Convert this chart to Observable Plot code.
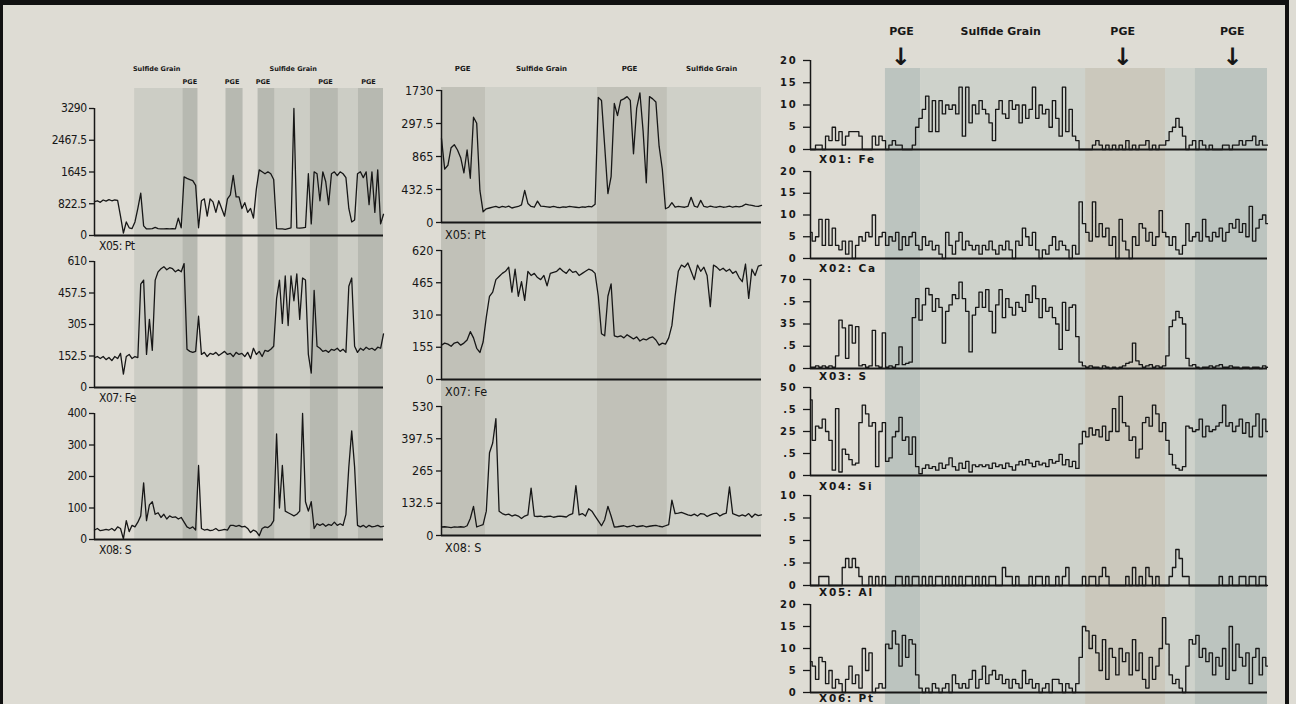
<!DOCTYPE html>
<html><head><meta charset="utf-8">
<script src="https://cdn.jsdelivr.net/npm/d3@7"></script>
<script src="https://cdn.jsdelivr.net/npm/@observablehq/plot@0.6"></script>
<style>
html,body{margin:0;padding:0;}
body{width:1296px;height:704px;overflow:hidden;background:#dedcd4;}
#page{position:relative;width:1296px;height:704px;overflow:hidden;}
#frame{position:absolute;left:0;top:0;width:1289px;height:704px;border-top:5px solid #111;border-left:3px solid #111;border-right:4px solid #111;box-sizing:border-box;}
</style></head><body>
<div id="page"><div id="frame"></div></div>
<script>
// ---------------- DATA ----------------
// Left panel (scan position 0-100)
const leftPt = [880,900,860,920,890,930,900,920,910,500, 60,350,200,180,350,700,1100,250,170,170,
  180,210,180,170,170,175,170,180,170,450, 200,1520,1480,1450,1420,1300,200,900,950,500,
  950,870,600,900,700,500,950,1050,1560,1000, 1000,700,850,600,700,450,1200,1700,1650,1600,
  1650,1600,1450,180,170,170,160,180,200,3290, 200,190,200,210,1600,300,1650,1600,900,1650,
  1400,800,1600,1650,1550,1650,1600,1500,700,350, 400,1600,1650,1500,1650,800,1650,600,1700,300, 550];
const leftFe = [145,150,140,150,135,145,130,150,140,165, 65,150,160,140,150,145,500,520,160,330,
  180,520,560,575,585,570,580,575,560,570, 560,600,185,175,170,175,345,160,170,150,
  165,160,170,155,165,175,160,165,150,170, 160,165,150,170,140,190,160,175,150,180,
  175,185,200,430,520,310,540,300,540,420, 550,330,530,520,160,70,470,200,190,175,
  180,170,185,180,190,175,185,170,490,530, 200,170,190,180,195,185,190,180,195,190, 260];
const leftS = [30,35,28,30,32,30,35,28,40,35, 2,60,25,45,40,55,75,180,60,110,
  120,80,85,70,80,65,75,70,72,65, 70,55,40,35,40,30,235,35,30,32,
  28,30,35,28,30,32,30,45,45,42, 45,40,42,35,22,30,25,12,35,40,
  38,45,60,335,100,235,90,85,80,75, 80,90,400,120,90,120,35,50,45,50,
  42,48,45,55,45,50,45,80,230,345, 230,45,40,45,38,45,40,42,45,40, 42];
const leftPtTicks = [0, 822.5, 1645, 2467.5, 3290];
const leftPtLabels = ["0", "822.5", "1645", "2467.5", "3290"];
const leftFeTicks = [0, 152.5, 305, 457.5, 610];
const leftFeLabels = ["0", "152.5", "305", "457.5", "610"];
const leftSTicks = [0, 100, 200, 300, 400];
const leftSLabels = ["0", "100", "200", "300", "400"];
const leftBands = [
  {x1: 13.9, x2: 30.6, kind: "Sulfide Grain"}, {x1: 30.6, x2: 35.8, kind: "PGE"},
  {x1: 45.5, x2: 51.4, kind: "PGE"}, {x1: 56.6, x2: 62.5, kind: "PGE"},
  {x1: 62.5, x2: 74.7, kind: "Sulfide Grain"}, {x1: 74.7, x2: 84.4, kind: "PGE"},
  {x1: 84.4, x2: 91.3, kind: "Sulfide Grain"}, {x1: 91.3, x2: 100, kind: "PGE"}];
const leftGrainLabels = [{x: 21.5, text: "Sulfide Grain"}, {x: 68.75, text: "Sulfide Grain"}];
const leftPgeLabels = [{x: 33, text: "PGE"}, {x: 47.6, text: "PGE"}, {x: 58.3, text: "PGE"}, {x: 79.9, text: "PGE"}, {x: 94.8, text: "PGE"}];

// Middle panel
const midPt = [1100,700,750,980,1020,950,850,650,950,580, 1380,1300,420,140,180,190,200,210,195,210,
  200,215,190,200,210,230,420,250,210,200, 280,215,210,205,200,210,200,195,205,200,
  210,205,200,195,205,200,210,205,240,1640, 1600,1000,380,600,1560,1400,1600,1620,1650,1600,
  900,1500,1700,1200,520,1650,1620,1580,1000,700, 180,200,260,200,210,205,200,210,330,215,
  200,290,210,200,215,205,200,210,200,205, 215,200,210,205,215,240,230,225,215,210, 225];
const midFe = [165,175,170,160,175,180,165,175,190,230, 200,150,130,180,300,400,420,480,495,510,
  520,540,420,530,400,470,380,520,500,510, 490,480,500,450,510,515,520,535,520,510,
  530,515,520,500,510,520,530,525,510,400, 220,210,400,460,210,205,210,200,215,205,
  195,205,185,195,190,200,205,190,165,175, 170,200,260,400,520,550,540,560,520,480,
  550,520,540,500,350,550,540,525,535,520, 530,510,520,490,470,555,390,530,500,545, 550];
const midS = [35,36,34,32,35,34,36,34,40,70, 120,35,40,45,100,340,380,480,100,90,
  85,88,80,85,80,70,80,85,195,80, 78,80,76,78,80,75,78,80,78,76,
  85,90,205,85,90,80,110,100,80,60, 40,65,120,80,35,36,38,40,35,38,
  42,36,38,40,35,38,40,42,38,35, 40,45,145,90,92,95,90,85,82,88,
  80,90,88,78,85,90,92,80,88,92, 200,90,85,80,85,80,90,75,88,82, 85];
const midPtTicks = [0, 432.5, 865, 1297.5, 1730];
const midPtLabels = ["0", "432.5", "865", "297.5", "1730"];   // as printed (leading digit cut in the figure)
const midFeTicks = [0, 155, 310, 465, 620];
const midFeLabels = ["0", "155", "310", "465", "620"];
const midSTicks = [0, 132.5, 265, 397.5, 530];
const midSLabels = ["0", "132.5", "265", "397.5", "530"];
const midBands = [
  {x1: 0, x2: 13.75, kind: "PGE"}, {x1: 13.75, x2: 48.75, kind: "Sulfide Grain"},
  {x1: 48.75, x2: 70.6, kind: "PGE"}, {x1: 70.6, x2: 100, kind: "Sulfide Grain"}];
const midLabels = [{x: 6.6, text: "PGE"}, {x: 31.25, text: "Sulfide Grain"}, {x: 58.75, text: "PGE"}, {x: 84.4, text: "Sulfide Grain"}];

// Right panel
const rFe = [0,0,1,1,0,3,2,5,2,4, 1,3,4,4,4,3,0,0,0,3, 1,3,2,0,1,2,1,1,0,0,
  0,1,5,7,9,12,4,11,4,11, 8,10,9,10,8,14,3,14,6,10, 8,11,9,8,6,2,9,11,8,7,
  11,9,10,6,10,7,9,14,7,10, 8,9,5,11,7,3,14,4,9,3, 2,0,0,0,0,1,2,1,0,1,
  0,1,0,1,0,2,0,1,0,1, 1,2,0,1,0,1,1,2,4,5, 7,5,3,0,1,2,0,2,1,0,
  1,0,0,0,1,1,0,1,1,2, 1,2,2,3,1,2,1,1];
const rCa = [6,4,5,9,3,9,3,7,3,2, 4,1,4,0,3,5,4,6,5,10, 3,5,6,3,5,4,6,2,5,3,
  5,6,3,2,5,3,4,2,3,1, 0,6,3,1,4,6,2,4,3,2, 3,1,3,2,4,2,1,3,2,4,
  2,0,4,3,7,5,3,6,2,0, 2,1,3,5,2,4,3,2,0,3, 1,13,8,6,4,13,5,8,5,7,
  3,5,0,9,4,2,0,5,3,8, 7,4,6,3,5,11,6,5,3,5, 2,1,3,8,4,5,6,4,9,5,
  4,6,5,7,4,6,8,7,9,6, 8,5,12,4,7,9,10,8];
const rS = [1,1,2,1,2,1,2,1,10,38, 32,8,34,20,33,2,3,1,2,30, 2,1,28,1,2,1,3,17,3,4,
  5,40,55,38,50,63,58,45,55,48, 20,45,50,58,55,68,55,45,13,42, 48,60,48,62,45,28,50,62,40,55,
  48,42,52,48,45,58,52,65,55,40, 55,45,48,40,35,15,52,30,48,50, 25,5,2,1,2,1,1,0,2,1,
  0,1,0,1,2,4,5,20,6,3, 1,2,3,1,2,1,2,10,33,38, 45,40,35,8,2,3,1,0,1,1,
  2,1,2,3,1,1,2,1,1,0, 1,1,0,1,1,0,2,1];
const rSi = [43,20,28,27,32,25,20,3,38,2, 15,12,9,6,7,30,40,35,28,30, 5,25,30,8,10,22,25,33,20,22,
  12,22,5,1,4,6,4,5,3,7, 4,6,10,5,3,7,4,8,2,6, 5,6,5,6,4,7,5,6,4,7,
  5,3,6,8,6,9,7,5,8,6, 7,5,9,7,8,12,6,9,5,8, 4,18,25,22,27,23,26,22,28,20,
  25,38,25,45,30,28,20,22,10,15, 30,33,28,40,35,25,30,20,12,6, 4,3,5,28,27,25,26,32,22,28,
  25,26,28,30,40,28,30,25,28,32, 24,30,22,28,35,22,32,25];
const rAl = [0,0,0,1,1,1,0,0,0,0, 2,3,2,3,2,1,0,0,1,0, 1,0,1,0,0,0,1,1,0,1,
  0,1,1,0,1,0,1,0,1,1, 0,1,0,1,0,1,0,1,1,0, 1,0,1,0,1,1,0,0,2,1,
  1,0,1,0,0,0,1,0,1,1, 0,1,0,0,1,0,1,2,0,0, 0,0,1,0,1,1,0,1,2,1,
  0,0,0,0,0,1,0,2,0,1, 0,2,1,0,1,0,0,0,1,2, 4,3,1,1,0,0,0,0,0,0,
  0,0,0,1,0,0,1,0,0,1, 1,0,1,1,0,1,1,0];
const rPt = [7,6,3,8,7,2,5,1,3,2, 0,3,6,2,4,1,10,5,9,0, 1,2,1,11,10,14,11,6,13,8,
  12,11,4,1,0,1,0,2,1,0, 1,2,0,4,2,1,2,1,3,5, 1,3,6,2,4,5,3,4,2,3,
  1,3,2,1,5,2,3,1,2,0, 1,2,0,3,3,2,0,2,1,0, 2,8,15,14,10,13,9,5,12,3,
  10,8,4,10,7,9,4,12,5,9, 3,1,8,3,6,10,17,11,4,2, 3,1,0,6,12,11,13,8,10,7,
  9,4,8,6,10,3,15,5,11,8, 6,9,2,8,10,4,8,6];
const rTicks20 = [0, 5, 10, 15, 20];
const rLabels20 = ["0", "5", "10", "15", "20"];
const rTicksS = [0, 17.5, 35, 52.5, 70];
const rLabelsS = ["0", ".5", "35", ".5", "70"];      // as printed (cut in the figure)
const rTicksSi = [0, 12.5, 25, 37.5, 50];
const rLabelsSi = ["0", ".5", "25", ".5", "50"];
const rTicksAl = [0, 2.5, 5, 7.5, 10];
const rLabelsAl = ["0", ".5", "5", ".5", "10"];
const rightBands = [
  {x1: 16.4, x2: 24.1, kind: "PGE"}, {x1: 24.1, x2: 60.2, kind: "Sulfide Grain"},
  {x1: 60.2, x2: 77.7, kind: "PGE2"}, {x1: 77.7, x2: 84.2, kind: "Sulfide Grain"},
  {x1: 84.2, x2: 100, kind: "PGE"}];
const rightLabels = [{x: 19.9, text: "PGE"}, {x: 41.6, text: "Sulfide Grain"}, {x: 68.3, text: "PGE"}, {x: 92.3, text: "PGE"}];
const rightArrows = [19.7, 68.3, 92.3];

// ---------------- DRAWING ----------------
const INK = "#171717";
const NARROW = '"Liberation Sans Narrow","Arial Narrow","DejaVu Sans Condensed",sans-serif';
const WIDE = '"DejaVu Sans",Verdana,sans-serif';
const page = document.getElementById("page");
function mount(node, left, top) {
  const d = document.createElement("div");
  d.style.cssText = `position:absolute;left:${left}px;top:${top}px;line-height:0;`;
  d.appendChild(node);
  page.appendChild(d);
}

function bandPlot(p) {
  const svg = Plot.plot({
    width: p.rightX - p.axisX, height: p.bandBottom - p.headTop,
    marginLeft: 0, marginRight: 0, marginBottom: 0, marginTop: p.bandTop - p.headTop,
    x: {domain: [0, 100], axis: null},
    color: {type: "identity"},
    style: {background: "transparent", overflow: "visible", color: INK},
    marks: [
      Plot.rect(p.bands, {x1: "x1", x2: "x2", fill: d => p.colors[d.kind]}),
      ...p.headers
    ]
  });
  mount(svg, p.axisX, p.headTop);
}

function chartPlot(p, c) {
  const top = c.yTop - 10, bottom = c.yZero + 9;
  const left = p.clipLeft, right = p.rightX + 3;
  const max = c.ticks[c.ticks.length - 1];
  const svg = Plot.plot({
    width: right - left, height: bottom - top,
    marginLeft: p.axisX - left, marginRight: right - p.rightX,
    marginTop: c.yTop - top, marginBottom: bottom - c.yZero,
    x: {domain: [0, 100], axis: null},
    y: {domain: [0, max], axis: null},
    style: {background: "transparent", overflow: "visible", color: INK, fontFamily: p.font,
      fontSize: p.fontSize, fontWeight: p.fontWeight, letterSpacing: p.letterSpacing},
    marks: [
      Plot.axisY({ticks: c.ticks, tickFormat: (d, i) => c.labels[c.ticks.indexOf(d)],
        tickSize: p.tickSize, tickPadding: p.tickPadding, label: null, strokeWidth: 1.3}),
      Plot.ruleX([0], {y1: 0, y2: max, strokeWidth: 1.5}),
      Plot.line(c.values, {x: (d, i) => i * 100 / (c.values.length - 1), y: d => d,
        strokeWidth: p.lineWidth, curve: p.curve}),
      Plot.ruleY([0], {strokeWidth: 1.8})
    ]
  });
  mount(svg, left, top);
}

const hdr = (data, dy, size) => Plot.text(data, {x: "x", text: "text", frameAnchor: "top", dy,
  fontSize: size, fontWeight: "bold", fontFamily: WIDE});

const panels = [
  {clipLeft: 20, axisX: 94, rightX: 383, bandTop: 88, bandBottom: 539, headTop: 55,
   bands: leftBands, colors: {"Sulfide Grain": "#cccdc5", "PGE": "#b7b9b1"},
   headers: [hdr(leftGrainLabels, -22, 6.5), hdr(leftPgeLabels, -9, 6.5)],
   font: NARROW, fontSize: "12px", fontWeight: "normal", letterSpacing: "-0.5px",
   tickSize: 5, tickPadding: 3, lineWidth: 1.3, curve: "linear", nameX: 99, nameSize: "12px",
   charts: [
     {values: leftPt, ticks: leftPtTicks, labels: leftPtLabels, yTop: 108, yZero: 235, name: "X05: Pt", nameY: 250},
     {values: leftFe, ticks: leftFeTicks, labels: leftFeLabels, yTop: 261, yZero: 387, name: "X07: Fe", nameY: 402},
     {values: leftS, ticks: leftSTicks, labels: leftSLabels, yTop: 413, yZero: 539, name: "X08: S", nameY: 554}]},
  {clipLeft: 395, axisX: 441, rightX: 761, bandTop: 87, bandBottom: 535, headTop: 55,
   bands: midBands, colors: {"Sulfide Grain": "#cfd0c8", "PGE": "#c1c1b8"},
   headers: [hdr(midLabels, -21, 7)],
   font: NARROW, fontSize: "12.5px", fontWeight: "normal", letterSpacing: "0px",
   tickSize: 5, tickPadding: 3, lineWidth: 1.3, curve: "linear", nameX: 445, nameSize: "12.5px",
   charts: [
     {values: midPt, ticks: midPtTicks, labels: midPtLabels, yTop: 90, yZero: 222, name: "X05: Pt", nameY: 239},
     {values: midFe, ticks: midFeTicks, labels: midFeLabels, yTop: 250, yZero: 379, name: "X07: Fe", nameY: 396},
     {values: midS, ticks: midSTicks, labels: midSLabels, yTop: 406, yZero: 535, name: "X08: S", nameY: 552}]},
  {clipLeft: 770, axisX: 810, rightX: 1267, bandTop: 68, bandBottom: 704, headTop: 10,
   bands: rightBands, colors: {"Sulfide Grain": "#ced2cb", "PGE": "#bcc4bf", "PGE2": "#cbc8bc"},
   headers: [hdr(rightLabels, -41, 11),
     Plot.text(rightArrows, {x: d => d, text: () => "↓", frameAnchor: "top", dy: -21,
       fontSize: 24, fontWeight: "bold", fontFamily: WIDE})],
   font: WIDE, fontSize: "10px", fontWeight: "bold", letterSpacing: "1.8px",
   tickSize: 7, tickPadding: 6, lineWidth: 1.3, curve: "step", nameX: 819, nameSize: "10.5px",
   charts: [
     {values: rFe, ticks: rTicks20, labels: rLabels20, yTop: 60, yZero: 149, name: "X01: Fe", nameY: 163},
     {values: rCa, ticks: rTicks20, labels: rLabels20, yTop: 171, yZero: 258, name: "X02: Ca", nameY: 272},
     {values: rS, ticks: rTicksS, labels: rLabelsS, yTop: 279, yZero: 368, name: "X03: S", nameY: 380},
     {values: rSi, ticks: rTicksSi, labels: rLabelsSi, yTop: 387, yZero: 475, name: "X04: Si", nameY: 490},
     {values: rAl, ticks: rTicksAl, labels: rLabelsAl, yTop: 495, yZero: 585, name: "X05: Al", nameY: 596},
     {values: rPt, ticks: rTicks20, labels: rLabels20, yTop: 604, yZero: 692, name: "X06: Pt", nameY: 702}]}
];

for (const p of panels) bandPlot(p);
for (const p of panels) for (const c of p.charts) chartPlot(p, c);

// series names under each chart
const over = d3.select(page).append("svg").attr("width", 1296).attr("height", 704)
  .style("position", "absolute").style("left", 0).style("top", 0).style("pointer-events", "none");
for (const p of panels) for (const c of p.charts) {
  over.append("text").attr("x", p.nameX).attr("y", c.nameY).text(c.name)
    .attr("fill", INK).style("font-family", p.font).style("font-size", p.nameSize)
    .style("font-weight", p.fontWeight).style("letter-spacing", p.letterSpacing);
}
</script></body></html>
